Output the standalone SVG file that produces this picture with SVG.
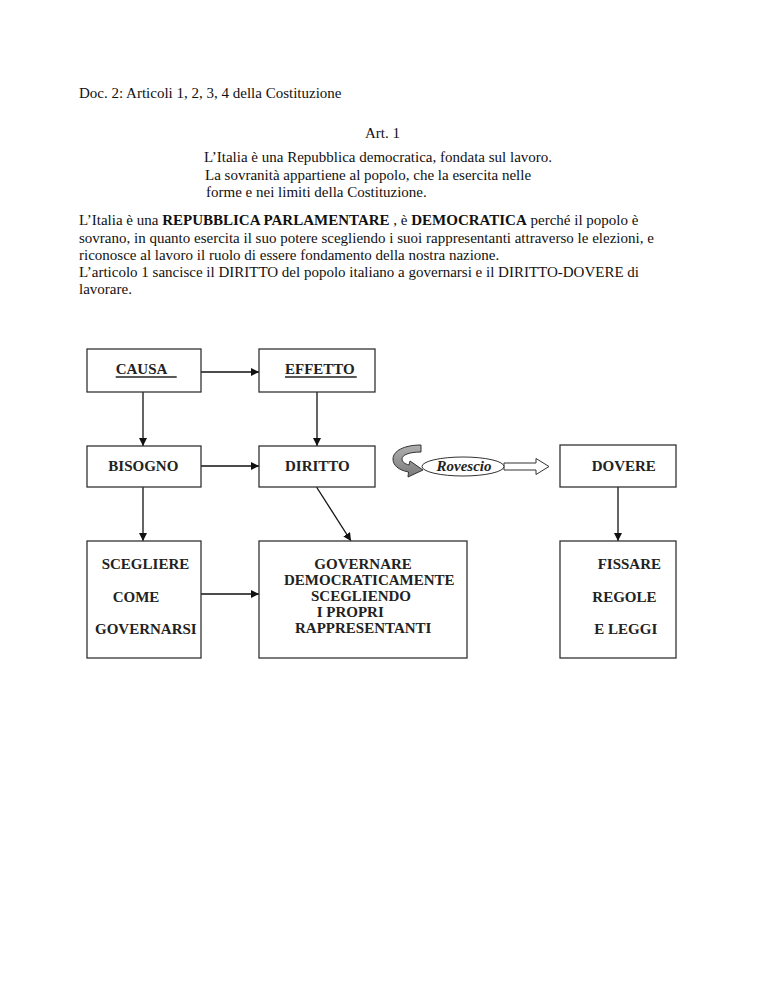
<svg xmlns="http://www.w3.org/2000/svg" width="768" height="994" viewBox="0 0 768 994">
<style>
.t{font-family:"Liberation Serif","Times New Roman",serif;font-size:15px;fill:#111}
.b{font-family:"Liberation Serif","Times New Roman",serif;font-size:15px;font-weight:bold;fill:#222}
.box{fill:#fff;stroke:#333;stroke-width:1.3}
.c{stroke:#111;stroke-width:1.3;fill:none}
.ul{stroke:#222;stroke-width:1.4}
</style>
<defs>
<marker id="ah" viewBox="0 0 8 8" refX="8" refY="4" markerWidth="8" markerHeight="8" markerUnits="userSpaceOnUse" orient="auto">
<path d="M0,0 L8,4 L0,8 Z" fill="#111"/>
</marker>
<linearGradient id="g" x1="0" y1="0" x2="0" y2="1">
<stop offset="0" stop-color="#b0b0b0"/>
<stop offset="1" stop-color="#7a7a7a"/>
</linearGradient>
</defs>
<rect width="768" height="994" fill="#fff"/>
<g id="text">
<text class="t" x="79" y="98">Doc. 2: Articoli 1, 2, 3, 4 della Costituzione</text>
<text class="t" x="365" y="138">Art. 1</text>
<text class="t" x="204" y="162">L’Italia è una Repubblica democratica, fondata sul lavoro.</text>
<text class="t" x="205" y="179.5">La sovranità appartiene al popolo, che la esercita nelle</text>
<text class="t" x="206" y="197">forme e nei limiti della Costituzione.</text>
<text class="t" x="79" y="225">L’Italia è una <tspan font-weight="bold">REPUBBLICA PARLAMENTARE</tspan> , è <tspan font-weight="bold">DEMOCRATICA</tspan> perché il popolo è</text>
<text class="t" x="79" y="242.5">sovrano, in quanto esercita il suo potere scegliendo i suoi rappresentanti attraverso le elezioni, e</text>
<text class="t" x="79" y="259.5">riconosce al lavoro il ruolo di essere fondamento della nostra nazione.</text>
<text class="t" x="79" y="277">L’articolo 1 sancisce il DIRITTO del popolo italiano a governarsi e il DIRITTO-DOVERE di</text>
<text class="t" x="79" y="294">lavorare.</text>
</g>
<g id="connectors">
<line class="c" x1="201" y1="372" x2="259" y2="372" marker-end="url(#ah)"/>
<line class="c" x1="143" y1="392" x2="143" y2="446" marker-end="url(#ah)"/>
<line class="c" x1="317" y1="392" x2="317" y2="446" marker-end="url(#ah)"/>
<line class="c" x1="201" y1="466" x2="259" y2="466" marker-end="url(#ah)"/>
<line class="c" x1="143" y1="487" x2="143" y2="541" marker-end="url(#ah)"/>
<line class="c" x1="316.5" y1="487" x2="351" y2="541" marker-end="url(#ah)"/>
<line class="c" x1="201" y1="594" x2="259" y2="594" marker-end="url(#ah)"/>
<line class="c" x1="618" y1="487" x2="618" y2="541" marker-end="url(#ah)"/>
<path d="M504,463 L536,463 L536,458.5 L549,466.5 L536,474.5 L536,470 L504,470 Z" fill="#fff" stroke="#333" stroke-width="1"/>
<path d="M421,445 L421,452 C409,452 402,455 402,459 C402,462 405,464 409,465 L410,461 L423,470 L408,477 L408.5,472 C398,470 393,465 393,459 C393,451 404,445 421,445 Z" fill="url(#g)" stroke="#333" stroke-width="1"/>
</g>
<g id="causa">
<rect class="box" x="87" y="349" width="114" height="43"/>
<text class="b" x="115.7" y="374">CAUSA</text>
<line class="ul" x1="115.7" y1="377" x2="176.7" y2="377"/>
</g>
<g id="effetto">
<rect class="box" x="259" y="349" width="116" height="43"/>
<text class="b" x="285" y="374">EFFETTO</text>
<line class="ul" x1="285" y1="377" x2="356.7" y2="377"/>
</g>
<g id="bisogno">
<rect class="box" x="87" y="446" width="114" height="41"/>
<text class="b" x="108.3" y="471">BISOGNO</text>
</g>
<g id="diritto">
<rect class="box" x="259" y="446" width="116" height="41"/>
<text class="b" x="285" y="471">DIRITTO</text>
</g>
<g id="rovescio">
<ellipse cx="463" cy="466.5" rx="41" ry="9.5" fill="#fff" stroke="#333" stroke-width="1"/>
<text class="b" x="464" y="471" text-anchor="middle" font-style="italic">Rovescio</text>
</g>
<g id="dovere">
<rect class="box" x="560" y="445" width="116" height="42"/>
<text class="b" x="591.7" y="471">DOVERE</text>
</g>
<g id="scegliere">
<rect class="box" x="87" y="541" width="114" height="117"/>
<text class="b" x="101.7" y="569">SCEGLIERE</text>
<text class="b" x="112.7" y="601.7">COME</text>
<text class="b" x="95" y="634">GOVERNARSI</text>
</g>
<g id="governare">
<rect class="box" x="259" y="541" width="208" height="117"/>
<text class="b" x="314.3" y="569.3">GOVERNARE</text>
<text class="b" x="284" y="585">DEMOCRATICAMENTE</text>
<text class="b" x="311" y="601">SCEGLIENDO</text>
<text class="b" x="316.7" y="617.3">I PROPRI</text>
<text class="b" x="295" y="633.3">RAPPRESENTANTI</text>
</g>
<g id="fissare">
<rect class="box" x="560" y="541" width="116" height="117"/>
<text class="b" x="597.7" y="569.3">FISSARE</text>
<text class="b" x="592.3" y="601.7">REGOLE</text>
<text class="b" x="594.3" y="634">E LEGGI</text>
</g>
</svg>
